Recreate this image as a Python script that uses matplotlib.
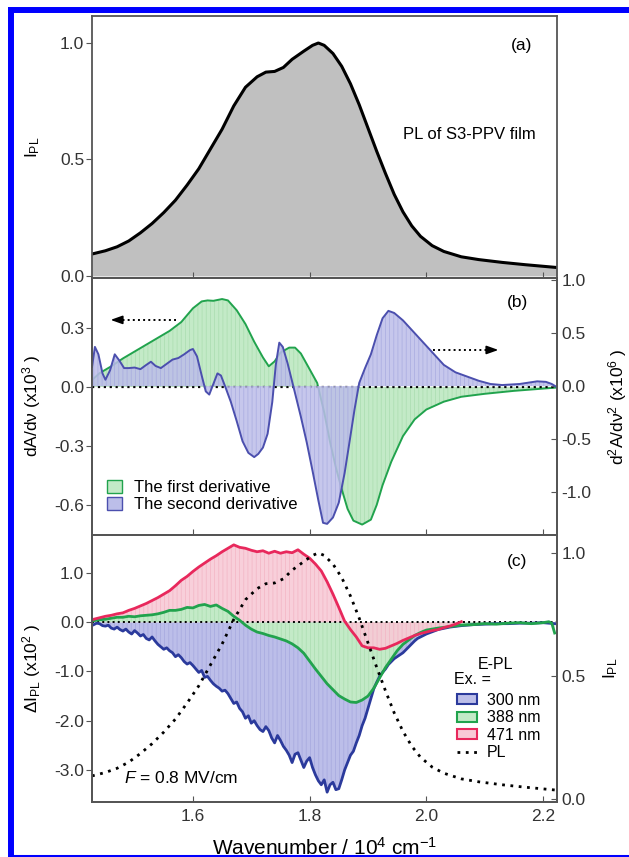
import numpy as np
import matplotlib
matplotlib.use("Agg")
from matplotlib import pyplot as plt
from matplotlib.patches import Patch
from matplotlib.lines import Line2D
from matplotlib.ticker import FormatStrFormatter

plt.rcParams['font.family'] = ['Liberation Sans', 'DejaVu Sans']
plt.rcParams['mathtext.fontset'] = 'custom'
plt.rcParams['mathtext.rm'] = 'Liberation Sans'
plt.rcParams['mathtext.it'] = 'Liberation Sans:italic'
plt.rcParams['axes.unicode_minus'] = False
plt.rcParams['hatch.linewidth'] = 0.6

# PL spectrum of the film (wavenumber in 10^4 cm^-1, normalised intensity)
pl_x = [1.427, 1.45, 1.47, 1.49, 1.51, 1.53, 1.55, 1.57, 1.59, 1.61, 1.63, 1.65,
        1.67, 1.69, 1.71, 1.725, 1.74, 1.755, 1.77, 1.79, 1.805, 1.815, 1.825,
        1.84, 1.855, 1.87, 1.885, 1.90, 1.915, 1.93, 1.945, 1.96, 1.975, 1.99,
        2.01, 2.03, 2.06, 2.09, 2.13, 2.17, 2.224]
pl_y = [0.094, 0.108, 0.125, 0.15, 0.185, 0.225, 0.272, 0.325, 0.39, 0.46, 0.545,
        0.63, 0.73, 0.81, 0.855, 0.875, 0.878, 0.895, 0.93, 0.965, 0.99, 1.0, 0.99,
        0.955, 0.9, 0.825, 0.735, 0.635, 0.535, 0.44, 0.35, 0.275, 0.215, 0.17,
        0.13, 0.105, 0.082, 0.07, 0.058, 0.048, 0.036]

# first derivative of absorption (x10^3)
d1_x = [1.427, 1.44, 1.46, 1.48, 1.50, 1.52, 1.54, 1.56, 1.58, 1.60, 1.615, 1.625,
        1.635, 1.65, 1.66, 1.675, 1.69, 1.705, 1.72, 1.73, 1.74, 1.75, 1.765, 1.775,
        1.785, 1.80, 1.813, 1.825, 1.835, 1.845, 1.855, 1.865, 1.875, 1.89, 1.905,
        1.915, 1.925, 1.94, 1.96, 1.98, 2.00, 2.03, 2.06, 2.10, 2.15, 2.224]
d1_y = [0.035, 0.07, 0.105, 0.145, 0.18, 0.215, 0.25, 0.285, 0.33, 0.40, 0.435,
        0.44, 0.438, 0.447, 0.44, 0.39, 0.32, 0.23, 0.15, 0.105, 0.13, 0.175, 0.2,
        0.2, 0.17, 0.09, 0.02, -0.13, -0.28, -0.41, -0.52, -0.62, -0.68, -0.70,
        -0.675, -0.6, -0.5, -0.38, -0.25, -0.165, -0.115, -0.075, -0.05, -0.035,
        -0.02, -0.003]

# second derivative of absorption (x10^6)
d2_x = [1.427, 1.432, 1.438, 1.445, 1.45, 1.458, 1.466, 1.474, 1.482, 1.49, 1.50,
        1.51, 1.52, 1.528, 1.536, 1.545, 1.555, 1.565, 1.575, 1.585, 1.595, 1.60,
        1.607, 1.615, 1.622, 1.628, 1.635, 1.642, 1.648, 1.655, 1.665, 1.675, 1.685,
        1.695, 1.705, 1.712, 1.72, 1.728, 1.736, 1.742, 1.748, 1.754, 1.762, 1.772,
        1.785, 1.795, 1.805, 1.815, 1.823, 1.83, 1.84, 1.85, 1.86, 1.868, 1.877,
        1.885, 1.895, 1.905, 1.915, 1.925, 1.935, 1.945, 1.96, 1.975, 1.99, 2.01,
        2.03, 2.05, 2.07, 2.09, 2.11, 2.13, 2.16, 2.19, 2.205, 2.215, 2.224]
d2_y = [0.18, 0.37, 0.30, 0.12, 0.06, 0.15, 0.30, 0.24, 0.17, 0.17, 0.175, 0.16,
        0.20, 0.23, 0.19, 0.17, 0.21, 0.25, 0.265, 0.30, 0.34, 0.35, 0.28, 0.10,
        -0.05, -0.08, 0.02, 0.12, 0.10, 0.0, -0.15, -0.33, -0.52, -0.63, -0.67,
        -0.64, -0.58, -0.45, -0.15, 0.20, 0.41, 0.37, 0.22, 0.0, -0.29, -0.53,
        -0.80, -1.08, -1.29, -1.30, -1.24, -1.10, -0.82, -0.54, -0.22, 0.03, 0.17,
        0.30, 0.48, 0.64, 0.71, 0.69, 0.62, 0.53, 0.44, 0.32, 0.20, 0.13, 0.09,
        0.05, 0.02, 0.01, 0.02, 0.045, 0.04, 0.02, -0.01]

# electro-PL change (x10^2) for three excitation wavelengths
ex471_x = [1.43, 1.44, 1.45, 1.46, 1.47, 1.48, 1.49, 1.50, 1.51, 1.52, 1.53, 1.54,
           1.55, 1.56, 1.57, 1.58, 1.59, 1.60, 1.61, 1.62, 1.63, 1.64, 1.65, 1.66,
           1.67, 1.68, 1.69, 1.70, 1.71, 1.72, 1.73, 1.74, 1.75, 1.76, 1.77, 1.78,
           1.79, 1.80, 1.81, 1.82, 1.83, 1.84, 1.85, 1.86, 1.87, 1.88, 1.89, 1.90,
           1.91, 1.92, 1.93, 1.94, 1.95, 1.96, 1.97, 1.98, 1.99, 2.00, 2.01, 2.02,
           2.03, 2.04, 2.05, 2.06]
ex471_y = [0.06, 0.09, 0.12, 0.14, 0.17, 0.19, 0.24, 0.28, 0.33, 0.38, 0.44, 0.50,
           0.57, 0.64, 0.74, 0.85, 0.93, 1.03, 1.12, 1.20, 1.28, 1.35, 1.43, 1.50,
           1.57, 1.52, 1.50, 1.46, 1.43, 1.45, 1.40, 1.44, 1.40, 1.43, 1.41, 1.47,
           1.38, 1.30, 1.18, 1.04, 0.82, 0.57, 0.30, 0.02, -0.15, -0.30, -0.48,
           -0.52, -0.52, -0.55, -0.53, -0.48, -0.43, -0.37, -0.32, -0.27, -0.23,
           -0.20, -0.17, -0.15, -0.11, -0.08, -0.04, 0.01]

ex388_x = [1.43, 1.44, 1.45, 1.46, 1.47, 1.48, 1.49, 1.50, 1.51, 1.52, 1.53, 1.54,
           1.55, 1.56, 1.57, 1.58, 1.59, 1.60, 1.61, 1.62, 1.63, 1.64, 1.65, 1.66,
           1.67, 1.68, 1.69, 1.70, 1.71, 1.72, 1.73, 1.74, 1.75, 1.76, 1.77, 1.78,
           1.79, 1.80, 1.81, 1.82, 1.83, 1.84, 1.85, 1.86, 1.87, 1.88, 1.89, 1.90,
           1.91, 1.92, 1.93, 1.94, 1.95, 1.96, 1.97, 1.98, 1.99, 2.00, 2.02, 2.04,
           2.06, 2.08, 2.10, 2.12, 2.14, 2.16, 2.18, 2.20, 2.21, 2.215, 2.22]
ex388_y = [0.03, 0.05, 0.06, 0.08, 0.10, 0.10, 0.12, 0.11, 0.13, 0.14, 0.15, 0.17,
           0.20, 0.24, 0.24, 0.26, 0.30, 0.29, 0.34, 0.36, 0.32, 0.35, 0.28, 0.22,
           0.12, 0.04, -0.06, -0.14, -0.20, -0.23, -0.27, -0.30, -0.34, -0.38,
           -0.44, -0.52, -0.63, -0.79, -0.95, -1.10, -1.25, -1.37, -1.49, -1.56,
           -1.62, -1.63, -1.58, -1.50, -1.34, -1.13, -0.92, -0.75, -0.58, -0.45,
           -0.36, -0.27, -0.21, -0.16, -0.12, -0.09, -0.06, -0.05, -0.03, -0.04,
           -0.02, -0.01, -0.03, -0.01, 0.01, -0.02, -0.22]

ex300_x = [1.430, 1.435, 1.440, 1.445, 1.450, 1.455, 1.460, 1.465, 1.470, 1.475,
           1.480, 1.485, 1.490, 1.495, 1.500, 1.505, 1.510, 1.515, 1.520, 1.525,
           1.530, 1.535, 1.540, 1.545, 1.550, 1.555, 1.560, 1.565, 1.570, 1.575,
           1.580, 1.585, 1.590, 1.595, 1.600, 1.605, 1.610, 1.615, 1.620, 1.625,
           1.630, 1.635, 1.640, 1.645, 1.650, 1.655, 1.660, 1.665, 1.670, 1.675,
           1.680, 1.685, 1.690, 1.695, 1.700, 1.705, 1.710, 1.715, 1.720, 1.725,
           1.730, 1.735, 1.740, 1.745, 1.750, 1.755, 1.760, 1.765, 1.770, 1.775,
           1.780, 1.785, 1.790, 1.795, 1.800, 1.805, 1.810, 1.815, 1.820, 1.825,
           1.830, 1.835, 1.840, 1.845, 1.850, 1.855, 1.860, 1.865, 1.870, 1.875,
           1.880, 1.885, 1.890, 1.895, 1.900, 1.905, 1.910, 1.915, 1.920, 1.925,
           1.930, 1.935, 1.940, 1.945, 1.950, 1.955, 1.960, 1.965, 1.970, 1.975,
           1.980, 1.985, 1.990, 1.995, 2.000, 2.02, 2.04, 2.06, 2.08, 2.10, 2.12,
           2.14, 2.16, 2.18, 2.20, 2.22]
ex300_y = [-0.05, -0.02, -0.03, -0.07, -0.08, -0.06, -0.12, -0.14, -0.10, -0.15,
           -0.18, -0.14, -0.20, -0.24, -0.17, -0.22, -0.28, -0.25, -0.33, -0.36,
           -0.30, -0.38, -0.45, -0.50, -0.55, -0.52, -0.58, -0.62, -0.70, -0.66,
           -0.72, -0.80, -0.85, -0.82, -0.88, -0.95, -1.02, -0.98, -1.12, -1.10,
           -1.18, -1.25, -1.30, -1.34, -1.40, -1.38, -1.45, -1.55, -1.65, -1.62,
           -1.75, -1.82, -1.95, -1.90, -2.05, -2.00, -2.10, -2.18, -2.22, -2.12,
           -2.20, -2.35, -2.45, -2.30, -2.40, -2.52, -2.60, -2.70, -2.85, -2.68,
           -2.65, -2.80, -2.95, -2.82, -2.75, -2.95, -3.10, -3.22, -3.30, -3.20,
           -3.45, -3.30, -3.25, -3.40, -3.38, -3.20, -3.00, -2.85, -2.70, -2.62,
           -2.45, -2.30, -2.10, -1.95, -1.75, -1.55, -1.35, -1.22, -1.10, -1.02,
           -0.95, -0.86, -0.80, -0.74, -0.70, -0.66, -0.62, -0.56, -0.50, -0.44,
           -0.38, -0.33, -0.30, -0.27, -0.24, -0.15, -0.10, -0.07, -0.05, -0.04,
           -0.03, -0.03, -0.02, -0.02, -0.01, -0.03]

XLIM = (1.427, 2.224)
XTICKS = [1.6, 1.8, 2.0, 2.2]
SPINE = '#555555'
GREEN, GREEN_F = '#21a34d', '#c3eac7'
BLUE, BLUE_F = '#4b4fae', '#bcbee9'
BLUE_C = '#2b3a9c'
RED, RED_F = '#e8285c', '#f8cad6'

fig = plt.figure(figsize=(6.29, 8.57), dpi=100)

# blue frame lines along the left, top and bottom edges
FW, FH = 629.0, 857.0
frame = [([11, 11], [0, 847]),          # left
         ([8, 629], [847, 847]),        # top
         ([8, 629], [1.5, 1.5])]        # bottom
for xs, ys in frame:
    fig.add_artist(Line2D([x / FW for x in xs], [y / FH for y in ys],
                          transform=fig.transFigure, color='#0000ff',
                          lw=4.3 if ys[0] != 1.5 else 2.2, solid_capstyle='butt'))

L, W = 92 / 629, 465 / 629
ax_a = fig.add_axes([L, 1 - 278 / 857, W, 262 / 857])
ax_b = fig.add_axes([L, 1 - 535 / 857, W, 257 / 857])
ax_c = fig.add_axes([L, 1 - 802 / 857, W, 267 / 857])
ax_b2 = ax_b.twinx()
ax_c2 = ax_c.twinx()


def style(ax, left=True):
    for s in ax.spines.values():
        s.set_color(SPINE)
        s.set_linewidth(1.3)
    ax.set_xlim(*XLIM)
    ax.set_xticks(XTICKS)
    ax.tick_params(axis='x', direction='in', length=4, color=SPINE, top=False,
                   labelsize=12.5, labelcolor='#333333', pad=5)
    if left:
        ax.tick_params(axis='y', direction='out', length=4, color=SPINE,
                       labelsize=12.5, labelcolor='#333333', pad=1.5)
    else:
        ax.tick_params(axis='y', direction='in', length=4, color=SPINE,
                       labelsize=12.5, labelcolor='#333333', pad=3)


for ax in (ax_a, ax_b, ax_c):
    style(ax)
for ax in (ax_b2, ax_c2):
    style(ax, left=False)
ax_a.tick_params(labelbottom=False)
ax_b.tick_params(labelbottom=False)

# (a) PL spectrum
ax_a.fill_between(pl_x, pl_y, 0, color='#c0c0c0', lw=0)
ax_a.plot(pl_x, pl_y, color='black', lw=2.2)
ax_a.set_ylim(-0.009, 1.116)
ax_a.set_yticks([0, 0.5, 1.0])
ax_a.yaxis.set_major_formatter(FormatStrFormatter('%.1f'))
ax_a.set_ylabel(r'I$_{\rm PL}$', fontsize=12.5)
ax_a.yaxis.set_label_coords(-0.108, 0.5)
ax_a.text(0.923, 0.889, '(a)', transform=ax_a.transAxes, ha='center', va='center',
          fontsize=12.5)
ax_a.text(0.811, 0.546, 'PL of S3-PPV film', transform=ax_a.transAxes,
          ha='center', va='center', fontsize=12)

# (b) derivatives of absorption
ax_b.fill_between(d1_x, d1_y, 0, facecolor=GREEN_F, edgecolor='#aedfb3', hatch='||||',
                  lw=0)
ax_b.plot(d1_x, d1_y, color=GREEN, lw=1.4)
ax_b.axhline(0, color='black', ls=':', lw=1.6, zorder=5)
ax_b.set_ylim(-0.753, 0.554)
ax_b.set_yticks([-0.6, -0.3, 0, 0.3])
ax_b.yaxis.set_major_formatter(FormatStrFormatter('%.1f'))
ax_b.set_ylabel('dA/dν (x10$^{3}$ )', fontsize=12.5)
ax_b.yaxis.set_label_coords(-0.105, 0.5)

ax_b2.fill_between(d2_x, d2_y, 0, facecolor=BLUE_F, edgecolor='#a9abe0', hatch='||||',
                   lw=0, alpha=0.85)
ax_b2.plot(d2_x, d2_y, color=BLUE, lw=1.4)
ax_b2.set_ylim(-1.405, 1.02)
ax_b2.set_yticks([-1.0, -0.5, 0, 0.5, 1.0])
ax_b2.yaxis.set_major_formatter(FormatStrFormatter('%.1f'))
ax_b2.set_ylabel('d$^{2}$A/dν$^{2}$ (x10$^{6}$ )', fontsize=12.5, rotation=90)
ax_b2.yaxis.set_label_coords(1.106, 0.5)
ax_b2.text(0.914, 0.903, '(b)', transform=ax_b2.transAxes, ha='center', va='center',
           fontsize=12.5)

# dotted arrows pointing at the matching axis
ax_b2.plot([0.181, 0.06], [0.837, 0.837], transform=ax_b2.transAxes, color='black',
           ls=':', lw=1.4)
ax_b2.annotate('', xy=(0.034, 0.837), xytext=(0.065, 0.837), xycoords='axes fraction',
               arrowprops=dict(arrowstyle='-|>,head_length=0.7,head_width=0.25',
                               color='black', lw=1.2))
ax_b2.plot([0.733, 0.855], [0.72, 0.72], transform=ax_b2.transAxes, color='black',
           ls=':', lw=1.4)
ax_b2.annotate('', xy=(0.880, 0.72), xytext=(0.849, 0.72), xycoords='axes fraction',
               arrowprops=dict(arrowstyle='-|>,head_length=0.7,head_width=0.25',
                               color='black', lw=1.2))

ax_b2.legend(handles=[Patch(facecolor=GREEN_F, edgecolor=GREEN, label='The first derivative'),
                      Patch(facecolor=BLUE_F, edgecolor=BLUE, label='The second derivative')],
             loc='lower left', bbox_to_anchor=(0.0, 0.03), frameon=False, fontsize=12,
             handlelength=0.9, handleheight=0.8, handletextpad=0.7, labelspacing=0.1)

# (c) electro-PL spectra
ex300_y = np.array(ex300_y)
ex388_y = np.array(ex388_y)
ax_c.fill_between(ex300_x, ex300_y, 0, facecolor=BLUE_F, edgecolor='#a9abe0',
                  hatch='||||', lw=0)
ax_c.fill_between(ex388_x, ex388_y, 0, where=ex388_y <= 0, interpolate=True,
                  facecolor=GREEN_F, edgecolor='#aedfb3', hatch='||||', lw=0)
ax_c.fill_between(ex471_x, ex471_y, 0, facecolor=RED_F, edgecolor='#f3b6c6',
                  hatch='||||', lw=0, alpha=0.9)
ax_c.fill_between(ex388_x, ex388_y, 0, where=ex388_y >= 0, interpolate=True,
                  facecolor=GREEN_F, edgecolor='#aedfb3', hatch='||||', lw=0)
ax_c.axhline(0, color='black', ls=':', lw=1.4)
ax_c.plot(ex300_x, ex300_y, color=BLUE_C, lw=2)
ax_c.plot(ex388_x, ex388_y, color=GREEN, lw=2)
ax_c.plot(ex471_x, ex471_y, color=RED, lw=2)
ax_c.set_ylim(-3.65, 1.77)
ax_c.set_yticks([-3, -2, -1, 0, 1])
ax_c.yaxis.set_major_formatter(FormatStrFormatter('%.1f'))
ax_c.set_ylabel(r'ΔI$_{\rm PL}$ (x10$^{2}$ )', fontsize=12.5)
ax_c.yaxis.set_label_coords(-0.105, 0.5)
ax_c.set_xlabel('Wavenumber / 10$^{4}$ cm$^{-1}$', fontsize=15, labelpad=9)
ax_c.text(0.069, 0.09, '$F$ = 0.8 MV/cm', transform=ax_c.transAxes, ha='left',
          va='center', fontsize=12.5)

ax_c2.plot(pl_x, pl_y, color='black', ls=(0, (1, 2)), lw=2)
ax_c2.set_ylim(-0.012, 1.073)
ax_c2.set_yticks([0, 0.5, 1.0])
ax_c2.yaxis.set_major_formatter(FormatStrFormatter('%.1f'))
ax_c2.set_ylabel(r'I$_{\rm PL}$', fontsize=12.5, rotation=90)
ax_c2.yaxis.set_label_coords(1.095, 0.5)
ax_c2.text(0.914, 0.899, '(c)', transform=ax_c2.transAxes, ha='center', va='center',
           fontsize=12.5)

ax_c2.text(0.868, 0.514, 'E-PL', transform=ax_c2.transAxes, ha='center', va='center',
           fontsize=11.5)
ax_c2.text(0.778, 0.458, 'Ex. =', transform=ax_c2.transAxes, ha='left', va='center',
           fontsize=11.5)
ax_c2.legend(handles=[Patch(facecolor=BLUE_F, edgecolor=BLUE_C, lw=1.5, label='300 nm'),
                      Patch(facecolor=GREEN_F, edgecolor=GREEN, lw=1.5, label='388 nm'),
                      Patch(facecolor=RED_F, edgecolor=RED, lw=1.5, label='471 nm'),
                      Line2D([], [], color='black', ls=(0, (1, 2)), lw=2, label='PL')],
             loc='upper left', bbox_to_anchor=(0.76, 0.45), frameon=False, fontsize=11.5,
             handlelength=1.3, handleheight=0.6, handletextpad=0.6, labelspacing=0.15,
             borderpad=0.2)

fig.savefig('out.png', dpi=100)
